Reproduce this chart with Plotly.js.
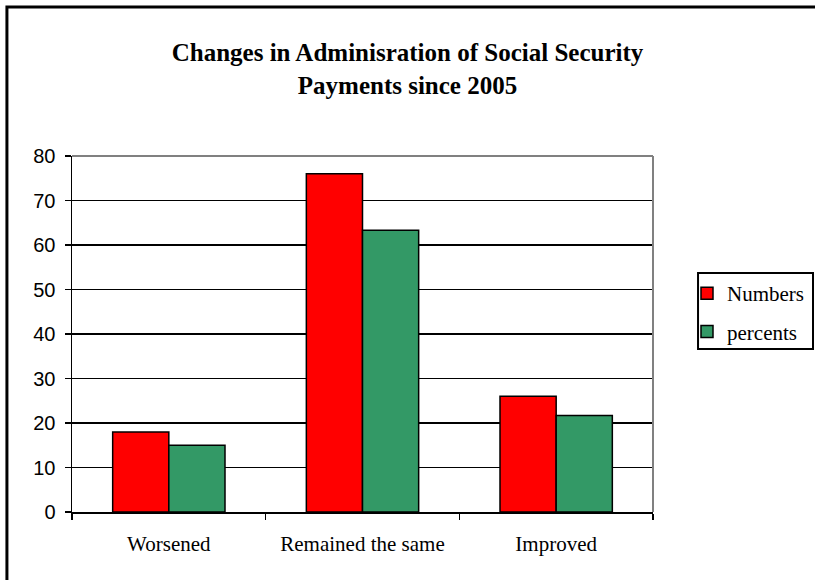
<!DOCTYPE html>
<html>
<head>
<meta charset="utf-8">
<script src="https://cdn.plot.ly/plotly-3.0.1.min.js"></script>
<style>html,body{margin:0;padding:0;background:#fff;}#chart{width:815px;height:580px;}</style>
</head>
<body>
<div id="chart"></div>
<script>
var categories = ["Worsened", "Remained the same", "Improved"];
var numbers = [18, 76, 26];
var percents = [15, 63.3, 21.7];
var yTicks = [0, 10, 20, 30, 40, 50, 60, 70, 80];

var serif = "Liberation Serif, Times New Roman, serif";
var sans = "Liberation Sans, Arial, sans-serif";

var traces = [
  {type: "bar", name: "Numbers", x: categories, y: numbers, legendgroup: "a",
   marker: {color: "#FF0000", line: {color: "#000", width: 1.5}}},
  {type: "bar", name: "percents", x: categories, y: percents, legendgroup: "b",
   marker: {color: "#339966", line: {color: "#000", width: 1.5}}}
];

var layout = {
  width: 815, height: 580,
  margin: {l: 72, r: 162, t: 156, b: 68, pad: 0},
  paper_bgcolor: "#fff", plot_bgcolor: "#fff",
  barmode: "group", bargap: 0.42, bargroupgap: 0,
  title: {text: "<b>Changes in Adminisration of Social Security<br>Payments since 2005</b>",
          font: {family: serif, size: 25, color: "#000"},
          x: 0.5, xref: "container", xanchor: "center",
          y: 1 - 61/580, yref: "container", yanchor: "top"},
  xaxis: {type: "category", showline: true, linecolor: "#000", linewidth: 1.5,
          ticks: "outside", tickson: "boundaries", ticklen: 6, tickcolor: "#000", tickwidth: 1.5,
          ticklabelstandoff: 12,
          tickfont: {family: serif, size: 21, color: "#000"}, showgrid: false, fixedrange: true},
  yaxis: {range: [0, 80], tickvals: yTicks, showline: true, linecolor: "#000", linewidth: 1.5,
          ticks: "outside", ticklen: 6, tickcolor: "#000", tickwidth: 1.5,
          ticklabelstandoff: 5,
          showgrid: true, gridcolor: "#000", gridwidth: 1.5, zeroline: false,
          tickfont: {family: sans, size: 20, color: "#000"}, fixedrange: true},
  showlegend: true,
  legend: {x: 687/815, y: 1 - 273/580, xref: "container", yref: "container",
           xanchor: "left", yanchor: "top",
           borderwidth: 0, bgcolor: "rgba(0,0,0,0)",
           font: {family: serif, size: 21, color: "#000"},
           traceorder: "grouped", tracegroupgap: 8, itemwidth: 30},
  shapes: [
    {type: "line", xref: "paper", yref: "paper", x0: 0, x1: 1, y0: 1, y1: 1,
     line: {color: "#808080", width: 2}},
    {type: "line", xref: "paper", yref: "paper", x0: 1, x1: 1, y0: 0, y1: 1,
     line: {color: "#808080", width: 2}},
    {type: "rect", xref: "paper", yref: "paper", x0: 1.0775, x1: 1.2754, y0: 0.4579, y1: 0.6713,
     line: {color: "#000", width: 2}, fillcolor: "rgba(0,0,0,0)"},
    {type: "path", xref: "paper", yref: "paper",
     path: "M -0.112 -0.4 L -0.112 1.4185 L 1.5 1.4185",
     line: {color: "#000", width: 3}}
  ]
};

Plotly.newPlot("chart", traces, layout, {displayModeBar: false, staticPlot: true});
</script>
</body>
</html>
